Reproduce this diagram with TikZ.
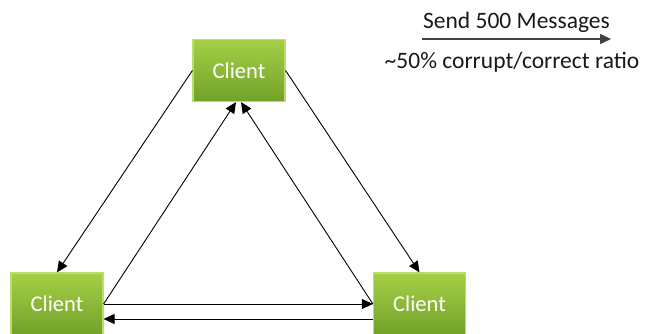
\documentclass[tikz,border=0pt]{standalone}
\usepackage{fontspec}
\setmainfont{Carlito}
\usepackage{xcolor}
\usepackage{tikz}
\usetikzlibrary{arrows.meta,positioning}
\definecolor{ClientLight}{HTML}{A4D046}
\definecolor{ClientDark}{HTML}{72A12A}
\definecolor{ClientEdge}{HTML}{B9DE6A}

\tikzset{
  clientbox/.style={rectangle,minimum width=92pt,minimum height=62pt,
    top color=ClientLight,bottom color=ClientDark,
    draw=ClientEdge,line width=1.2pt,
    text=white,font=\fontsize{22.5}{26}\selectfont},
  msg/.style={-{Triangle[length=11pt,width=10pt]},line width=0.9pt,black},
  legendtext/.style={font=\fontsize{23.5}{27}\selectfont,text=black!90}
}

\begin{document}
\begin{tikzpicture}[x=1pt,y=1pt]
        \useasboundingbox (0,0) rectangle (646,333);
        % the three clients
        \node[clientbox] (top) at (239,262.5) {Client};
        \node[clientbox] (left) at (57,29) {Client};
        \node[clientbox] (right) at (419.5,29) {Client};

        % messages between clients
        \draw[msg] (top.west) -- (left.north);
        \draw[msg] (top.east) -- (right.north);
        \draw[msg] (left.east) -- ([xshift=-3pt]top.south);
        \draw[msg] (right.west) -- ([xshift=2pt]top.south);
        \draw[msg] (left.east) -- (right.west);
        \draw[msg] ([yshift=-15pt]right.west) -- ([yshift=-15pt]left.east);

        % legend
        \coordinate (legstart) at (422,294);
        \coordinate (legend) at (611,294);
        \draw[msg,line width=1.3pt,black!75] (legstart) -- (legend);
        \node[legendtext,anchor=base] (sendlbl) at (516.5,305)
          {Send 500 Messages};
        \node[legendtext,anchor=base] (ratiolbl) at (512,265)
          {\textasciitilde50\% corrupt/correct ratio};
      \end{tikzpicture}
\end{document}
